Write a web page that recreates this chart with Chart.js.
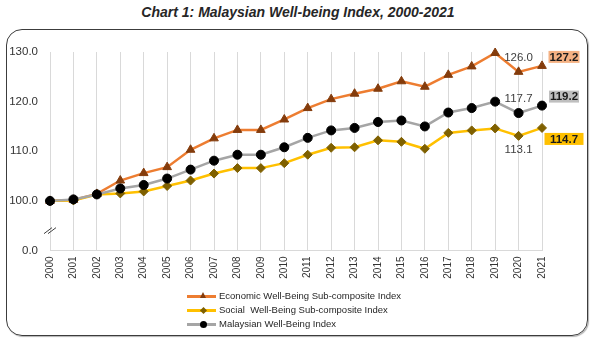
<!DOCTYPE html>
<html lang="en">
  <head>
    <meta charset="UTF-8" />
    <title>Malaysian Well-being Index, 2000-2021</title>
    <style>
      body {
        margin: 0;
        width: 593px;
        height: 343px;
        position: relative;
        overflow: hidden;
        background: #fff;
        font-family: "Liberation Sans", Arial, sans-serif;
      }
      .title {
        position: absolute;
        left: 0;
        top: 4px;
        width: 596px;
        margin: 0;
        text-align: center;
        font-size: 14px;
        font-weight: bold;
        font-style: italic;
        color: #262626;
      }
      .frame {
        position: absolute;
        left: 6px;
        top: 29px;
        width: 582px;
        height: 307px;
        box-sizing: border-box;
        border: 1.5px solid #3c3c3c;
        border-radius: 16px;
        box-shadow: 1px 1px 1px rgba(0, 0, 0, 0.3);
      }
      #chart {
        position: absolute;
        left: 0;
        top: 0;
      }
      .legend {
        position: absolute;
        left: 187px;
        top: 289px;
        margin: 0;
        padding: 0;
        list-style: none;
        font-size: 9.5px;
        color: #262626;
      }
      .legend li {
        height: 14px;
        line-height: 14px;
        display: flex;
        align-items: center;
      }
      .swatch {
        position: relative;
        width: 29px;
        height: 3px;
        margin-right: 3px;
      }
      .swatch i {
        position: absolute;
        left: 16px;
        top: 1.5px;
      }
      .tri {
        width: 0;
        height: 0;
        margin: -4px 0 0 -3.5px;
        border-left: 3.5px solid transparent;
        border-right: 3.5px solid transparent;
        border-bottom: 6.5px solid #843c0c;
      }
      .dia {
        width: 5px;
        height: 5px;
        margin: -2.5px 0 0 -2.5px;
        background: #7f6000;
        transform: rotate(45deg);
      }
      .dot {
        width: 7px;
        height: 7px;
        margin: -3.5px 0 0 -3.5px;
        border-radius: 50%;
        background: #000;
      }
    </style>
  </head>
  <body>
    <h1 class="title">Chart 1: Malaysian Well-being Index, 2000-2021</h1>
    <div class="frame"></div>
    <canvas id="chart" width="593" height="343"></canvas>

    <ul class="legend">
      <li>
        <span class="swatch" style="background: #ed7d31"><i class="tri"></i></span>
        Economic Well-Being Sub-composite Index
      </li>
      <li>
        <span class="swatch" style="background: #ffc000"><i class="dia"></i></span>
        Social&nbsp; Well-Being Sub-composite Index
      </li>
      <li>
        <span class="swatch" style="background: #a5a5a5"><i class="dot"></i></span>
        Malaysian Well-Being Index
      </li>
    </ul>

    <script src="https://cdn.jsdelivr.net/npm/chart.js@4.4.1/dist/chart.umd.min.js"></script>
    <script>
      var years = [
        "2000", "2001", "2002", "2003", "2004", "2005", "2006", "2007",
        "2008", "2009", "2010", "2011", "2012", "2013", "2014", "2015",
        "2016", "2017", "2018", "2019", "2020", "2021",
      ];

      var economicIndex = [
        100.0, 100.2, 101.4, 104.1, 105.6, 106.8, 110.3, 112.6, 114.3, 114.3,
        116.4, 118.7, 120.5, 121.6, 122.6, 124.1, 123.0, 125.4, 127.1, 129.8,
        126.0, 127.2,
      ];

      var socialIndex = [
        100.0, 100.1, 101.3, 101.5, 101.9, 103.0, 104.1, 105.5, 106.6, 106.6,
        107.6, 109.3, 110.7, 110.8, 112.2, 111.9, 110.5, 113.7, 114.2, 114.6,
        113.1, 114.7,
      ];

      var wellBeingIndex = [
        100.0, 100.3, 101.3, 102.5, 103.2, 104.5, 106.3, 108.1, 109.3, 109.3,
        110.8, 112.7, 114.2, 114.7, 115.9, 116.2, 115.0, 117.8, 118.7, 120.0,
        117.7, 119.2,
      ];

      // the axis jumps from 0 straight to 100, so the lowest tick stands in for 0.0
      var yTicks = [90, 100, 110, 120, 130];

      // 2020 note and boxed 2021 value for each series
      var labelStyle = [
        { noteDy: -14, boxDy: -9, boxWidth: 31, boxColor: "#f4b183" },
        { noteDy: 14, boxDy: 11, boxWidth: 39, boxColor: "#ffc000" },
        { noteDy: -14, boxDy: -9, boxWidth: 30, boxColor: "#bfbfbf" },
      ];

      var valueLabels = {
        id: "valueLabels",
        afterDatasetsDraw: function (chart) {
          var ctx = chart.ctx;
          ctx.save();
          ctx.textAlign = "center";
          ctx.textBaseline = "middle";
          chart.data.datasets.forEach(function (ds, i) {
            var meta = chart.getDatasetMeta(i);
            var n = ds.data.length;
            var st = labelStyle[i];
            var mid = meta.data[n - 2];
            var last = meta.data[n - 1];

            ctx.font = "11.5px 'Liberation Sans', Arial";
            ctx.fillStyle = "#404040";
            ctx.fillText(ds.data[n - 2].toFixed(1), mid.x, mid.y + st.noteDy);

            var bx = last.x + 22;
            var by = last.y + st.boxDy;
            ctx.fillStyle = st.boxColor;
            ctx.fillRect(bx - st.boxWidth / 2, by - 6, st.boxWidth, 12);
            ctx.font = "bold 11.5px 'Liberation Sans', Arial";
            ctx.fillStyle = "#1a1a1a";
            ctx.fillText(ds.data[n - 1].toFixed(1), bx, by + 0.5);
          });
          ctx.restore();
        },
      };

      // "//" mark on the value axis between 0 and 100
      var axisBreak = {
        id: "axisBreak",
        afterDraw: function (chart) {
          var ctx = chart.ctx;
          var x = chart.chartArea.left;
          var y = chart.scales.y.getPixelForValue(94);
          ctx.save();
          ctx.strokeStyle = "#404040";
          ctx.lineWidth = 1;
          [-2, 2].forEach(function (d) {
            ctx.beginPath();
            ctx.moveTo(x + d - 4, y + 3);
            ctx.lineTo(x + d + 4, y - 3);
            ctx.stroke();
          });
          ctx.restore();
        },
      };

      function createChart() {
        var ctx = document.getElementById("chart").getContext("2d");
        new Chart(ctx, {
          type: "line",
          data: {
            labels: years,
            datasets: [
              {
                label: "Economic Well-Being Sub-composite Index",
                data: economicIndex,
                borderColor: "#ed7d31",
                borderWidth: 2.5,
                pointStyle: "triangle",
                pointRadius: 5,
                pointBackgroundColor: "#843c0c",
                pointBorderColor: "#843c0c",
                pointBorderWidth: 1,
                clip: false,
                order: 2,
              },
              {
                label: "Social  Well-Being Sub-composite Index",
                data: socialIndex,
                borderColor: "#ffc000",
                borderWidth: 2.5,
                pointStyle: "rectRot",
                pointRadius: 4.5,
                pointBackgroundColor: "#7f6000",
                pointBorderColor: "#7f6000",
                pointBorderWidth: 1,
                clip: false,
                order: 1,
              },
              {
                label: "Malaysian Well-Being Index",
                data: wellBeingIndex,
                borderColor: "#a5a5a5",
                borderWidth: 2.5,
                pointStyle: "circle",
                pointRadius: 4.5,
                pointBackgroundColor: "#000",
                pointBorderColor: "#000",
                pointBorderWidth: 1,
                clip: false,
                order: 0,
              },
            ],
          },
          options: {
            responsive: false,
            animation: false,
            devicePixelRatio: 1,
            layout: {
              padding: { left: 6, right: 51, top: 52, bottom: 52.5 },
            },
            plugins: {
              legend: { display: false },
              tooltip: { enabled: false },
            },
            scales: {
              x: {
                offset: false,
                grid: { color: "#d9d9d9", drawTicks: false },
                border: { color: "#d9d9d9" },
                ticks: {
                  minRotation: 90,
                  maxRotation: 90,
                  padding: 6,
                  color: "#333",
                  font: { family: "'Liberation Sans', Arial", size: 10 },
                },
                afterFit: function (scale) {
                  scale.height = 40;
                },
              },
              y: {
                min: 90,
                max: 130,
                grid: { display: false, drawTicks: false },
                border: { display: false },
                afterBuildTicks: function (scale) {
                  scale.ticks = yTicks.map(function (v) {
                    return { value: v };
                  });
                },
                ticks: {
                  padding: 12,
                  color: "#333",
                  font: { family: "'Liberation Sans', Arial", size: 11.5 },
                  callback: function (value) {
                    return value === 90 ? "0.0" : value.toFixed(1);
                  },
                },
                afterFit: function (scale) {
                  scale.width = 44;
                },
              },
            },
          },
          plugins: [valueLabels, axisBreak],
        });
      }
      createChart();
    </script>
  </body>
</html>
